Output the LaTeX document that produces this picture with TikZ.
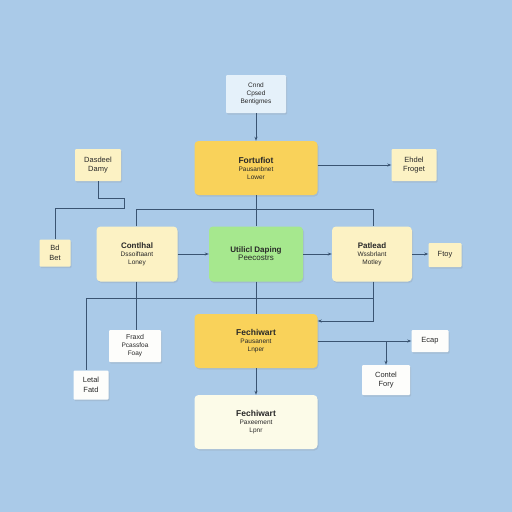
\documentclass[tikz,border=0pt]{standalone}
\usepackage{fontspec}
\setmainfont{Liberation Sans}
\usetikzlibrary{arrows.meta,shadows}
\definecolor{bgc}{RGB}{170,202,232}
\definecolor{linec}{RGB}{58,84,114}
\definecolor{topfill}{RGB}{229,241,250}
\definecolor{yel}{RGB}{249,210,90}
\definecolor{cream}{RGB}{252,242,196}
\definecolor{grn}{RGB}{166,232,142}
\definecolor{wht}{RGB}{253,253,251}
\definecolor{botfill}{RGB}{252,251,232}
\definecolor{txt}{RGB}{40,40,40}
\tikzset{
  box/.style={draw=none,inner sep=1pt,align=center,text=txt,font=\fontsize{6.5}{8}\selectfont,
    drop shadow={opacity=0.18,shadow xshift=1pt,shadow yshift=-1.5pt}},
  bigbox/.style={box,rounded corners=4pt},
  smallbox/.style={box,rounded corners=1pt},
  conn/.style={draw=linec,line width=0.8pt},
  arr/.style={conn,-{Stealth[length=4pt,width=3pt]}},
  big/.style={font=\fontsize{7.5}{9.5}\selectfont}
}
\begin{document}
\begin{tikzpicture}[x=1pt,y=-1pt]
\fill[bgc] (0,0) rectangle (512,512);
\useasboundingbox (0,0) rectangle (512,512);
% nodes
\node[smallbox,fill=topfill,minimum width=60pt,minimum height=38pt] (top) at (256,94) {Cnnd\\Cpsed\\Bentigmes};
\node[bigbox,fill=yel,minimum width=123pt,minimum height=54pt] (ty) at (256,168) {{\fontsize{8.5}{11}\selectfont\bfseries Fortufiot}\\Pausanbnet\\Lower};
\node[smallbox,big,fill=cream,minimum width=46pt,minimum height=32pt] (dash) at (98,165) {Dasdeel\\Damy};
\node[smallbox,big,fill=cream,minimum width=45pt,minimum height=32pt] (ehd) at (414,165) {Ehdel\\Froget};
\node[smallbox,big,fill=cream,minimum width=31pt,minimum height=27pt] (bd) at (55,253) {Bd\\Bet};
\node[bigbox,fill=cream,minimum width=81pt,minimum height=55pt] (lc) at (137,254) {{\fontsize{8}{10}\selectfont\bfseries Contlhal}\\Dssoiftaant\\Loney};
\node[bigbox,fill=grn,minimum width=94pt,minimum height=55pt] (gr) at (256,254) {{\fontsize{8}{10}\selectfont\bfseries Utilicl Daping}\\{\fontsize{8}{10}\selectfont Peecostrs}};
\node[bigbox,fill=cream,minimum width=80pt,minimum height=55pt] (rc) at (372,254) {{\fontsize{8}{10}\selectfont\bfseries Patlead}\\Wssbrlant\\Motley};
\node[smallbox,big,fill=cream,minimum width=33pt,minimum height=24pt] (ftoy) at (445,255) {Ftoy};
\node[bigbox,fill=yel,minimum width=123pt,minimum height=54pt] (ly) at (256,341) {{\fontsize{8.5}{11}\selectfont\bfseries Fechiwart}\\Pausanent\\Lnper};
\node[smallbox,fill=wht,minimum width=52pt,minimum height=32pt] (fx) at (135,346) {{\fontsize{7}{8}\selectfont Fraxd}\\Pcassfoa\\Foay};
\node[smallbox,big,fill=wht,minimum width=35pt,minimum height=29pt] (lt) at (91,385) {Letal\\Fatd};
\node[smallbox,big,fill=wht,minimum width=37pt,minimum height=22pt] (ecap) at (430,341) {Ecap};
\node[smallbox,big,fill=wht,minimum width=48pt,minimum height=30pt] (cf) at (386,380) {Contel\\Fory};
\node[bigbox,fill=botfill,minimum width=123pt,minimum height=54pt] (bot) at (256,422) {{\fontsize{8.5}{11}\selectfont\bfseries Fechiwart}\\Paxeement\\Lpnr};
% coordinates
\coordinate (j1) at (124,198);
\coordinate (j2) at (124,208);
\coordinate (j3) at (55,208);
\coordinate (ub) at (136,209);
\coordinate (lb) at (86,298);
\coordinate (r1) at (373,321);
% connectors
\draw[arr] (top) -- (ty);
\draw[arr] (ehd.west -| ty.east) -- (ehd.west);
\draw[conn] (dash.south) |- (j1) -- (j2) -- (j3) -- (bd.north);
\draw[conn] (ty.south) -- (gr.north);
\draw[conn] (ub) -- (ub -| 373,0);
\draw[conn] (lc.north -| ub) -- (ub);
\draw[conn] (ub -| 373,0) -- (373,0 |- rc.north);
\draw[arr] (lc.east) -- (gr.west);
\draw[arr] (gr.east) -- (rc.west);
\draw[arr] (rc.east) -- (rc.east -| ftoy.west);
\draw[conn] (lb) -- (lb -| r1);
\draw[conn] (lb) -- (lb |- lt.north);
\draw[conn] (136,0 |- lc.south) -- (136,0 |- fx.north);
\draw[conn] (gr.south) -- (ly.north);
\draw[arr] (r1 |- rc.south) -- (r1) -- (r1 -| ly.east);
\draw[arr] (ly.east) -- (ecap.west);
\draw[arr] (ly.east -| cf.north) -- (cf.north);
\draw[arr] (ly.south) -- (bot.north);
\end{tikzpicture}
\end{document}
